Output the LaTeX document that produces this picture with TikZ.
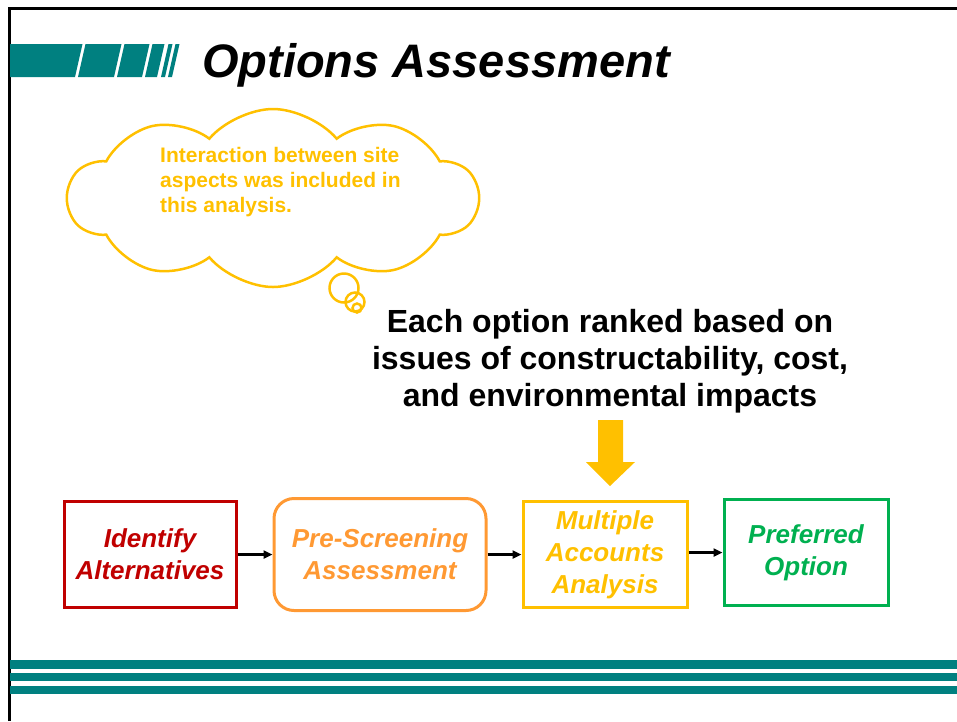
\documentclass[tikz,border=0pt]{standalone}
\usepackage{fontspec}
\setmainfont{Liberation Sans}
\usetikzlibrary{arrows.meta,shapes.symbols}
\definecolor{tealbar}{HTML}{008080}
\definecolor{identred}{HTML}{C00000}
\definecolor{screenorange}{HTML}{FF9933}
\definecolor{accountyellow}{HTML}{FFC000}
\definecolor{prefgreen}{HTML}{00B050}
\tikzset{
  flowbox/.style={draw, line width=3pt, inner sep=0pt, align=center,
    font=\bfseries\itshape\fontsize{26}{32}\selectfont},
  flowarrow/.style={-{Triangle[length=9pt,width=8pt]}, line width=2.5pt, black},
  bubble/.style={draw=accountyellow, line width=2.5pt, circle, inner sep=0pt},
}
\begin{document}
\begin{tikzpicture}[x=1pt,y=-1pt]
  \useasboundingbox (0,0) rectangle (957,721);
  % frame
  \draw[line width=3pt] (9,721) -- (9,8) -- (957,8);
  % header bars
  \fill[tealbar] (10,77) -- (75,77) -- (82.5,44) -- (10,44) -- cycle;
  \foreach \a/\b in {78/114,117/142,145/157,161/165,168/172}
    \fill[tealbar] (\a,77) -- (\b,77) -- (\b+7.5,44) -- (\a+7.5,44) -- cycle;
  \node[anchor=base west, inner sep=0pt,
    font=\bfseries\itshape\fontsize{47}{56}\selectfont] (title) at (202,77) {Options Assessment};
  % thought cloud
  \node[cloud, draw=accountyellow, line width=2.5pt, cloud puffs=10, cloud puff arc=100,
    aspect=2.3, minimum width=410pt, minimum height=178pt, inner sep=0pt] (cloudnote) at (273,198) {};
  \node[anchor=north west, inner sep=0pt, align=left, text=accountyellow,
    font=\bfseries\fontsize{21}{25}\selectfont] (notetext) at (160,147)
    {Interaction between site\\aspects was included in\\this analysis.};
  \node[bubble, minimum size=29pt] (bubbleA) at (344,288) {};
  \node[bubble, minimum size=19pt] (bubbleB) at (355,302) {};
  \node[bubble, minimum size=9pt] (bubbleC) at (357,308) {};
  % ranking text and big arrow
  \node[anchor=north, inner sep=0pt, align=center,
    font=\bfseries\fontsize{32}{37}\selectfont] (ranking) at (610,309)
    {Each option ranked based on\\issues of constructability, cost,\\and environmental impacts};
  \fill[accountyellow] (598,420) -- (623,420) -- (623,462) -- (635,462) -- (610,486)
    -- (586,462) -- (598,462) -- cycle;
  % flow boxes
  \node[flowbox, draw=identred, text=identred, minimum width=172pt, minimum height=106pt]
    (ident) at (150,554.5) {Identify\\Alternatives};
  \node[flowbox, draw=screenorange, text=screenorange, rounded corners=20pt,
    minimum width=212pt, minimum height=112pt] (prescreen) at (380,554.5) {Pre-Screening\\Assessment};
  \node[flowbox, draw=accountyellow, text=accountyellow, minimum width=164pt, minimum height=106pt]
    (accounts) at (605,554.5) {Multiple\\Accounts\\Analysis};
  \node[flowbox, draw=prefgreen, text=prefgreen, minimum width=164pt, minimum height=106pt]
    (preferred) at (806,552.5) {Preferred\\Option};
  \draw[flowarrow] (ident) -- (prescreen);
  \draw[flowarrow] (prescreen) -- (accounts);
  \draw[flowarrow] (accounts.east |- preferred) -- (preferred);
  % footer bars
  \fill[tealbar] (10,660) rectangle (957,669);
  \fill[tealbar] (10,673) rectangle (957,681);
  \fill[tealbar] (10,686) rectangle (957,694);
\end{tikzpicture}
\end{document}
